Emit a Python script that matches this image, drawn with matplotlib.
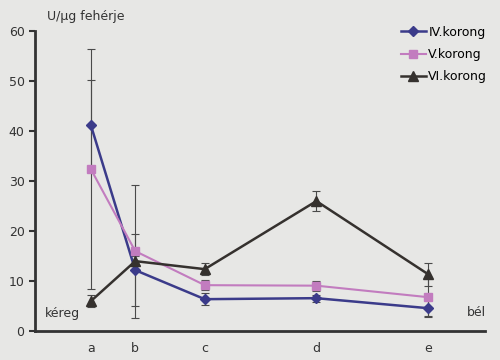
import matplotlib.pyplot as plt
import numpy as np
from matplotlib.lines import Line2D

# Data
categories = ['a', 'b', 'c', 'd', 'e']
x_pos = [0, 0.39, 1.0, 1.98, 2.96]

iv_vals = [41.2, 12.2, 6.4, 6.6, 4.6]
iv_err = [9.0, 7.2, 1.2, 0.7, 1.6]
v_vals = [32.4, 16.0, 9.2, 9.1, 6.8]
v_err = [24.0, 13.3, 1.0, 1.0, 4.0]
vi_vals = [6.0, 14.0, 12.4, 26.0, 11.4]
vi_err = [1.2, 1.0, 1.2, 2.0, 2.3]

bg = '#e7e7e5'

fig = plt.figure(figsize=(5, 3.6), dpi=100, facecolor=bg)
ax = fig.add_axes([0.07, 0.08, 0.9, 0.834], facecolor=bg)

series = [
	(iv_vals, iv_err, '#3b3b8a', 'D', 5, 1.8, 'IV.korong'),
	(v_vals, v_err, '#c27cbf', 's', 6, 1.5, 'V.korong'),
	(vi_vals, vi_err, '#35312e', '^', 7, 1.8, 'VI.korong'),
]

handles = []
for vals, err, col, mk, ms, lw, lab in series:
	ax.errorbar(x_pos, vals, yerr=err, color=col, ecolor='#4a4a4a', elinewidth=0.8,
		capsize=3, capthick=0.8, marker=mk, markersize=ms, linewidth=lw)
	handles.append(Line2D([], [], color=col, marker=mk, markersize=ms, linewidth=lw, label=lab))

ax.set_xlim(-0.49, 3.46)
ax.set_ylim(0, 60)
ax.set_yticks(np.arange(0, 61, 10))
ax.set_xticks(x_pos)
ax.set_xticklabels(categories)
ax.tick_params(axis='x', length=0, pad=8, labelsize=9, colors='#333333')
ax.tick_params(axis='y', direction='out', length=4, width=1.5, labelsize=9, colors='#333333')

for s in ['top', 'right']:
	ax.spines[s].set_visible(False)
ax.spines['left'].set_linewidth(2)
ax.spines['bottom'].set_linewidth(2)
ax.spines['left'].set_color('#333333')
ax.spines['bottom'].set_color('#333333')

ax.text(-0.4, 3.6, 'kéreg', fontsize=9, color='#333333', va='center')
ax.text(3.3, 3.8, 'bél', fontsize=9, color='#333333', va='center')
fig.text(0.094, 0.955, 'U/µg fehérje', fontsize=9, color='#333333', va='center')

ax.legend(handles=handles, loc='upper right', bbox_to_anchor=(1.03, 1.055), frameon=False,
	fontsize=9, handlelength=2.0, handletextpad=0.2, labelspacing=0.75)

fig.savefig('out.png', dpi=100, facecolor=bg)
